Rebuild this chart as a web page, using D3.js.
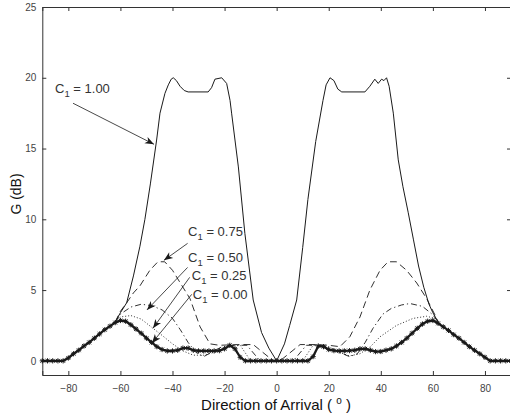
<!DOCTYPE html>
<html><head><meta charset="utf-8">
<script src="https://cdn.jsdelivr.net/npm/d3@7"></script>
<style>
html,body{margin:0;padding:0;background:#fff;}
svg text{font-family:"Liberation Sans",Arial,Helvetica,sans-serif;}
</style></head>
<body><svg id="c" width="510" height="419"></svg>
<script>
// ---- data ----
const xTicks = [-80,-60,-40,-20,0,20,40,60,80];
const yTicks = [0,5,10,15,20,25];

// C1 = 0.00 (thick, starred)
const c000Angle = [-90,-88,-86,-84,-82,-80,-78,-76,-74,-72,-70,-68,-66,-64,-62,-60,-58,-56,-54,-52,-50,-48,-46,-44,-42,-40,-38,-36,-34,-32,-30,-28,-26,-24,-22,-20,-18,-16,-14,-12,-10,-8,-6,-4,-2,0,2,4,6,8,10,12,14,16,18,20,22,24,26,28,30,32,34,36,38,40,42,44,46,48,50,52,54,56,58,60,62,64,66,68,70,72,74,76,78,80,82,84,86,88,90];
const c000Gain = [0,0,0,0,0,0.2,0.5,0.75,1.05,1.3,1.6,1.9,2.2,2.45,2.7,2.85,2.8,2.55,2.25,1.95,1.6,1.3,1.0,0.8,0.7,0.7,0.75,0.9,0.9,0.75,0.7,0.7,0.7,0.7,0.72,0.85,1.1,0.85,0.25,0,0,0,0,0,0,0,0,0,0,0,0,0,0.3,1.05,1.0,0.8,0.72,0.7,0.7,0.72,0.75,0.85,0.85,0.75,0.65,0.66,0.75,0.85,1.05,1.3,1.6,1.95,2.3,2.6,2.8,2.85,2.65,2.4,2.15,1.85,1.6,1.3,1.0,0.75,0.5,0.25,0,0,0,0,0];

// C1 = 1.00 (solid)
const c100Angle = [-62,-60,-57.6,-55,-52.5,-50.6,-48.5,-46.1,-44.8,-42.9,-41.6,-40.5,-39.7,-38.5,-37.1,-35.5,-34,-26.3,-25,-23.7,-21.1,-19.2,-17.9,-17.3,-14.7,-12.2,-9,-5.8,-3,0,3,5,7.7,10,12,15,17.8,19,20.5,22,23.5,25,33.9,35.8,37.7,39,40.3,41.2,42.2,43.2,44.8,46.7,48.5,50.5,52.5,54.5,56.5,58.5,60,62];
const c100Gain  = [2.75,3.4,4.1,6.0,8.1,10.0,12.5,15.6,17.5,18.9,19.5,19.9,20.0,19.8,19.4,19.1,19.0,19.0,19.3,19.9,20.0,19.6,18.4,17.5,13.7,9.0,4.3,2.0,0.9,0,1.2,2.5,4.3,8.0,11.4,15.5,18.4,19.5,20.0,19.8,19.2,19.0,19.0,19.4,19.9,19.6,19.9,19.8,20.0,19.4,17.5,14.2,12.3,10.5,8.6,6.7,5.2,4.0,3.4,2.75];

// C1 = 0.75 (dashed)
const c075Angle = [-62,-60,-57.6,-55,-52.5,-48.7,-45.6,-43,-40,-37,-33.3,-29.4,-25.6,-22,-15,-9,-1.3,1.3,9,15,20,24.3,28.1,32,35.8,39.7,42.8,46,49.9,53.8,57.6,60.8,62];
const c075Gain  = [2.75,3.5,4.1,4.8,5.3,6.4,7.0,7.0,6.4,5.5,4.4,2.4,1.2,1.1,1.15,1.15,0,0,1.15,1.15,1.1,1.0,1.7,3.1,5.0,6.4,7.0,7.0,6.4,5.5,4.4,3.25,2.75];

// C1 = 0.50 (dash-dot)
const c050Angle = [-62,-60,-56,-52,-48,-44,-40,-37,-34,-31,-28,-25,-21,-16,-11.4,-6.4,6.4,11.4,16,20,24,28,31,34,37,40.8,44,48,51.2,56,60,62];
const c050Gain  = [2.75,3.3,3.8,4.0,3.9,3.6,3.0,2.2,1.3,0.6,0.3,0.6,1.0,1.1,1.1,0,0,1.1,1.1,1.0,0.6,0.3,0.5,1.3,2.3,3.3,3.7,3.95,4.05,3.85,3.25,2.75];

// C1 = 0.25 (dotted)
const c025Angle = [-62,-60,-56,-52,-47.5,-44,-40,-36,-32,-28,-24,-20,-16,-14,-10,10,14,17,20,24,28,32,36,39.7,46,52.4,57.6,60.8,62];
const c025Gain  = [2.75,3.1,3.2,2.95,2.3,1.8,1.2,0.7,0.4,0.4,0.6,0.9,1.1,1.1,0,0,1.1,1.1,0.9,0.6,0.35,0.5,1.0,1.7,2.5,3.0,3.15,3.0,2.75];

// annotations: label text, label anchor (deg, dB), arrow start, arrow tip
const annLabels = ["1.00","0.75","0.50","0.25","0.00"];
const annLabelX = [-85.1,-34.0,-34.0,-32.6,-32.2];
const annLabelY = [18.9,8.8,7.0,5.7,4.4];
const annFromX  = [-78.2,-34.2,-34.2,-33.4,-32.6];
const annFromY  = [18.2,8.3,6.6,5.9,4.7];
const annToX    = [-47.1,-43.3,-49.8,-47.5,-47.9];
const annToY    = [15.3,7.1,3.6,2.3,1.25];

// ---- drawing ----
const svg = d3.select("#c");
const L = 42.3, R = 511, T = 7, B = 375;
const x = d3.scaleLinear().domain([-90,90]).range([L,R]);
const y = d3.scaleLinear().domain([-1,25]).range([B,T]);
const ink = "#1a1a1a";

const defs = svg.append("defs");
defs.append("marker").attr("id","ah").attr("viewBox","-10 -5 12 10")
  .attr("refX",0).attr("refY",0).attr("markerWidth",12).attr("markerHeight",10)
  .attr("markerUnits","userSpaceOnUse").attr("orient","auto")
  .append("path").attr("d","M0,0 L-9,-3.5 L-6.5,0 L-9,3.5 Z").attr("fill",ink);

// axes
const gx = svg.append("g").attr("transform",`translate(0,${B})`)
  .call(d3.axisBottom(x).tickValues(xTicks).tickSize(-4).tickPadding(10).tickFormat(d3.format("d")));
const gxt = svg.append("g").attr("transform",`translate(0,${T})`)
  .call(d3.axisTop(x).tickValues(xTicks).tickSize(-4).tickFormat(""));
const gy = svg.append("g").attr("transform",`translate(${L},0)`)
  .call(d3.axisLeft(y).tickValues(yTicks).tickSize(-4).tickPadding(6).tickFormat(d3.format("d")));
const gyr = svg.append("g").attr("transform",`translate(${R},0)`)
  .call(d3.axisRight(y).tickValues(yTicks).tickSize(-4).tickFormat(""));
[gx,gxt,gy,gyr].forEach(g=>{
  g.select(".domain").attr("stroke","#333").attr("stroke-width",1);
  g.selectAll(".tick line").attr("stroke","#333");
  g.selectAll("text").attr("fill","#444").attr("font-size",10)
   .attr("font-family","'Liberation Sans',Arial,sans-serif");
});

const line = d3.line().x(d=>x(d[0])).y(d=>y(d[1]));
const zip = (a,b)=>a.map((v,i)=>[v,b[i]]);

function drawSeries(ang, val, dash, w){
  svg.append("path").datum(zip(ang,val)).attr("d",line)
    .attr("fill","none").attr("stroke",ink).attr("stroke-width",w)
    .attr("stroke-dasharray",dash);
}
drawSeries(c025Angle,c025Gain,"1,2",0.9);
drawSeries(c050Angle,c050Gain,"6,3,1.2,3",0.9);
drawSeries(c075Angle,c075Gain,"7,4",0.9);
drawSeries(c100Angle,c100Gain,null,1);

// thick starred series
const thick = zip(c000Angle,c000Gain);
svg.append("path").datum(thick).attr("d",line)
  .attr("fill","none").attr("stroke",ink).attr("stroke-width",2.3);
const star = "M-2.6,0L2.6,0M0,-2.6L0,2.6M-1.9,-1.9L1.9,1.9M-1.9,1.9L1.9,-1.9";
svg.append("g").selectAll("path").data(thick).join("path")
  .attr("transform",d=>`translate(${x(d[0])},${y(d[1])})`)
  .attr("d",star).attr("stroke",ink).attr("stroke-width",1).attr("fill","none");

// annotations
annLabels.forEach((t,i)=>{
  svg.append("line")
    .attr("x1",x(annFromX[i])).attr("y1",y(annFromY[i]))
    .attr("x2",x(annToX[i])).attr("y2",y(annToY[i]))
    .attr("stroke",ink).attr("stroke-width",0.8).attr("marker-end","url(#ah)");
  const tx = svg.append("text").attr("x",x(annLabelX[i])).attr("y",y(annLabelY[i]))
    .attr("font-size",13).attr("fill","#333");
  tx.append("tspan").text("C");
  tx.append("tspan").attr("font-size",9.5).attr("dy",4).text("1");
  tx.append("tspan").attr("dy",-4).text(" = " + t);
});

// axis titles
const xt = svg.append("text").attr("x",276).attr("y",410)
  .attr("text-anchor","middle").attr("font-size",15).attr("fill","#111");
xt.append("tspan").text("Direction of Arrival ( ");
xt.append("tspan").attr("font-size",10).attr("dy",-6).text("o");
xt.append("tspan").attr("dy",6).text(" )");

svg.append("text").attr("transform","translate(21,194) rotate(-90)")
  .attr("text-anchor","middle").attr("font-size",14).attr("fill","#111").text("G (dB)");
</script></body></html>
